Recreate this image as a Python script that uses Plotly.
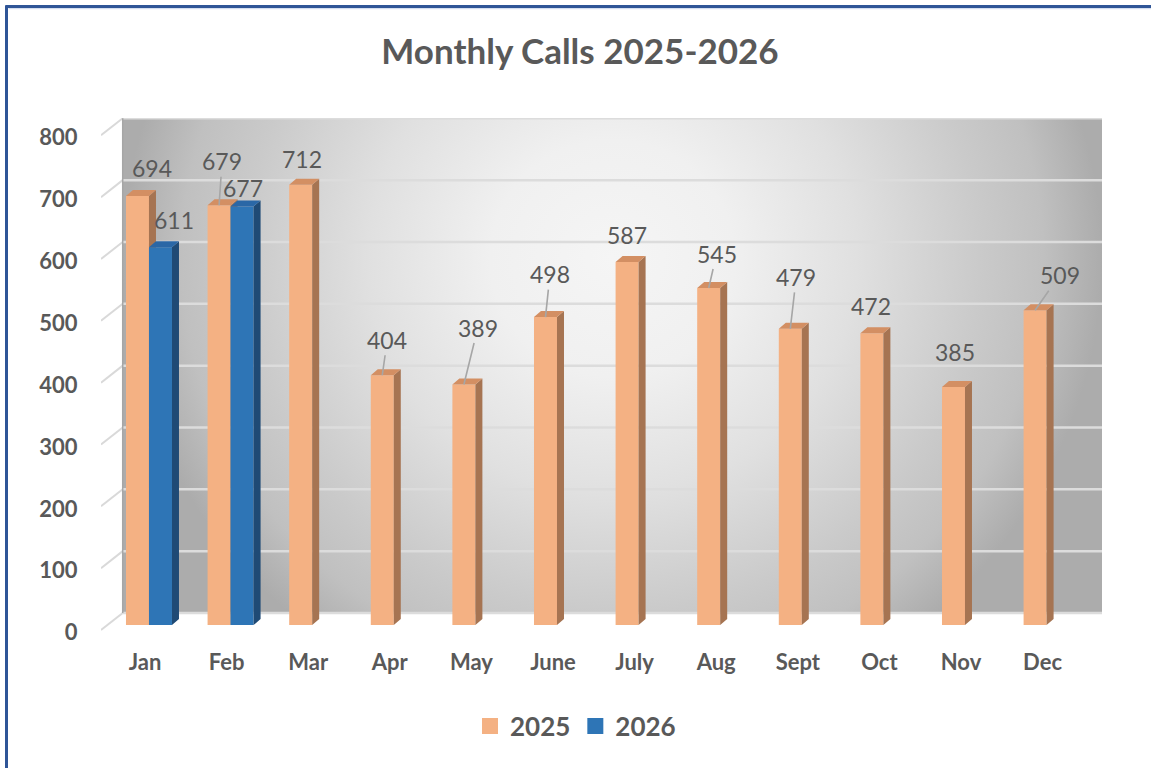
import plotly.graph_objects as go

# ---------------- data ----------------
MONTHS = ["Jan", "Feb", "Mar", "Apr", "May", "June", "July", "Aug", "Sept", "Oct", "Nov", "Dec"]
CALLS_2025 = [694, 679, 712, 404, 389, 498, 587, 545, 479, 472, 385, 509]
CALLS_2026 = [611, 677, None, None, None, None, None, None, None, None, None, None]
SERIES_NAMES = ["2025", "2026"]
Y_TICKS = [0, 100, 200, 300, 400, 500, 600, 700, 800]
TITLE = "Monthly Calls 2025-2026"

# ---------------- styles / geometry ----------------
W, H = 1151, 768
PL, PR, PT, PB = 101, 1102, 118, 640          # plot area edges in pixels
PX_Y = 0.6184                                  # pixels per call
Y_RANGE = [-8 - 10 / PX_Y, 820]
X_RANGE = [-0.588, 11.679]
PX_X = (PR - PL) / (X_RANGE[1] - X_RANGE[0])
PX_Y = (PB - PT) / (Y_RANGE[1] - Y_RANGE[0])

BAR_W = 23 / PX_X
DEPTH_X = 7 / PX_X
DEPTH_Y = 6 / PX_Y
WALL_X = X_RANGE[0] + (122.7 - PL) / PX_X
WALL_Y0 = Y_RANGE[0] + (PB - 613) / PX_Y
WALL_TOP = Y_TICKS[-1] + WALL_Y0
GRAD_TOP = WALL_TOP + 333 / PX_Y               # zero-area spikes stretch the gradient box
GRAD_BOT = WALL_Y0 - 118 / PX_Y
FRONT_SHIFT = -8

COL = {
    "2025": dict(front="#F4B183", side="#A67452", top="#D38F63"),
    "2026": dict(front="#2E75B6", side="#1F4A75", top="#2A67A6"),
}
TEXT_COL = "#595959"
FONT = "Lato"
WALL_SCALE = [[0, "#F5F5F5"], [0.25, "#F0F0F0"], [0.5, "#E0E0E0"], [0.75, "#CACACA"],
              [0.88, "#C0C0C0"], [1, "#ACACAC"]]

# data label placement (pixel offsets of label centre from bar top centre)
LABEL_OFF_2025 = [(15, -28), (3, -44), (1, -26), (5, -35.5), (14, -57), (4.5, -43),
                  (0, -27), (8, -34.5), (6, -52), (-1, -27), (1.5, -35), (24.5, -35)]
LEADER_2025 = [False, True, False, True, True, True, False, True, True, False, False, True]
LABEL_OFF_2026 = [(13.5, -27), (1, -18.5)]
LEADER_2026 = [False, False]


def paper_x(px):
    return (px - PL) / (PR - PL)


def paper_y(py):
    return (PB - py) / (PB - PT)


fig = go.Figure()

# back wall with radial grey shading
fig.add_trace(go.Scatter(
    x=[WALL_X, WALL_X, WALL_X, X_RANGE[1], X_RANGE[1], WALL_X, WALL_X, WALL_X, WALL_X],
    y=[WALL_Y0, GRAD_BOT, WALL_Y0, WALL_Y0, WALL_TOP, WALL_TOP, GRAD_TOP, WALL_TOP, WALL_Y0],
    mode="lines", fill="toself", line=dict(width=0, simplify=False),
    fillgradient=dict(type="radial", colorscale=WALL_SCALE),
    showlegend=False, hoverinfo="skip", zorder=-3))

# wall gridlines and front stubs
gx, gy, kx, ky = [], [], [], []
for t in Y_TICKS:
    gx += [WALL_X, X_RANGE[1], None]
    gy += [t + WALL_Y0, t + WALL_Y0, None]
    kx += [X_RANGE[0], WALL_X, None]
    ky += [t + FRONT_SHIFT, t + WALL_Y0, None]
fig.add_trace(go.Scatter(x=gx, y=gy, mode="lines", line=dict(color="#DCDCDC", width=2.5),
                         showlegend=False, hoverinfo="skip", zorder=-2))
fig.add_trace(go.Scatter(x=kx, y=ky, mode="lines", line=dict(color="#D9D9D9", width=2),
                         showlegend=False, hoverinfo="skip", zorder=-2))
fig.add_trace(go.Scatter(x=[WALL_X, WALL_X], y=[WALL_Y0, WALL_TOP], mode="lines",
                         line=dict(color="#A6A6A6", width=1.5),
                         showlegend=False, hoverinfo="skip", zorder=-2))

x_idx = list(range(len(MONTHS)))
series = [(SERIES_NAMES[0], CALLS_2025, -BAR_W), (SERIES_NAMES[1], CALLS_2026, 0.0)]

z = 0
for name, vals, off in series:
    c = COL[name]
    fig.add_trace(go.Bar(
        x=x_idx, y=vals, width=BAR_W, offset=off, name=name,
        marker=dict(color=c["front"], line=dict(width=0)),
        showlegend=False, hoverinfo="skip", zorder=z))
    sx, sy, tx, ty = [], [], [], []
    for i, v in zip(x_idx, vals):
        if v is None:
            continue
        x0 = i + off
        x1 = x0 + BAR_W
        sx += [x1, x1, x1 + DEPTH_X, x1 + DEPTH_X, x1, None]
        sy += [0, v, v + DEPTH_Y, DEPTH_Y, 0, None]
        tx += [x0, x1, x1 + DEPTH_X, x0 + DEPTH_X, x0, None]
        ty += [v, v, v + DEPTH_Y, v + DEPTH_Y, v, None]
    fig.add_trace(go.Scatter(x=sx, y=sy, mode="lines", fill="toself", fillcolor=c["side"],
                             line=dict(width=0), showlegend=False, hoverinfo="skip", zorder=z + 1))
    fig.add_trace(go.Scatter(x=tx, y=ty, mode="lines", fill="toself", fillcolor=c["top"],
                             line=dict(width=0), showlegend=False, hoverinfo="skip", zorder=z + 1))
    z += 2

# legend entries
for name in SERIES_NAMES:
    fig.add_trace(go.Scatter(x=[None], y=[None], mode="markers", name=f"<b>{name}</b>",
                             marker=dict(symbol="square", size=17, color=COL[name]["front"]),
                             showlegend=True, hoverinfo="skip"))

# data labels
annotations = []
for vals, offs, leaders, shift in [(CALLS_2025, LABEL_OFF_2025, LEADER_2025, -BAR_W / 2),
                                   (CALLS_2026, LABEL_OFF_2026, LEADER_2026, BAR_W / 2)]:
    for i, v in enumerate(vals):
        if v is None:
            continue
        ox, oy = offs[i]
        common = dict(x=i + shift, y=v, text=str(v), xref="x", yref="y",
                      font=dict(family=FONT, size=23, color=TEXT_COL))
        if leaders[i]:
            annotations.append(dict(**common, showarrow=True, ax=ox, ay=oy, arrowhead=0,
                                    arrowwidth=1.6, arrowcolor="#A6A6A6", standoff=0))
        else:
            annotations.append(dict(**common, showarrow=False, xshift=ox, yshift=-oy))

# outer frame
shapes = [
    dict(type="line", xref="paper", yref="paper", x0=paper_x(6.5), x1=paper_x(6.5),
         y0=paper_y(770), y1=paper_y(5.5), line=dict(color="#2F5597", width=3)),
    dict(type="line", xref="paper", yref="paper", x0=paper_x(5.5), x1=paper_x(1155),
         y0=paper_y(6.5), y1=paper_y(6.5), line=dict(color="#2F5597", width=3)),
    dict(type="line", xref="paper", yref="paper", x0=paper_x(8.5), x1=paper_x(1155),
         y0=paper_y(8.7), y1=paper_y(8.7), line=dict(color="#C9D5EC", width=1)),
]

fig.update_layout(
    width=W, height=H,
    margin=dict(l=PL, r=W - PR, t=PT, b=H - PB, pad=0),
    paper_bgcolor="white", plot_bgcolor="rgba(0,0,0,0)",
    barmode="overlay",
    title=dict(text=f"<b>{TITLE}</b>", x=580 / W, xref="container", xanchor="center",
               y=1 - 52 / H, yref="container", yanchor="middle",
               font=dict(family=FONT, size=35, color=TEXT_COL)),
    xaxis=dict(range=X_RANGE, tickvals=x_idx, ticktext=[f"<b>{m}</b>" for m in MONTHS],
               showgrid=False, zeroline=False, showline=False, ticks="outside", ticklen=3,
               tickcolor="rgba(0,0,0,0)", ticklabelshift=-4,
               tickfont=dict(family=FONT, size=22, color=TEXT_COL)),
    yaxis=dict(range=Y_RANGE, tickvals=[t - 12 for t in Y_TICKS], ticktext=[f"<b>{t}</b>" for t in Y_TICKS],
               showgrid=False, zeroline=False, showline=False, ticks="outside", ticklen=18,
               tickcolor="rgba(0,0,0,0)",
               tickfont=dict(family=FONT, size=22, color=TEXT_COL)),
    legend=dict(orientation="h", x=paper_x(470), xanchor="left", y=paper_y(726), yanchor="middle",
                font=dict(family=FONT, size=26, color=TEXT_COL), bgcolor="rgba(0,0,0,0)",
                itemclick=False),
    shapes=shapes,
    annotations=annotations,
)

fig.write_html("out.html")
